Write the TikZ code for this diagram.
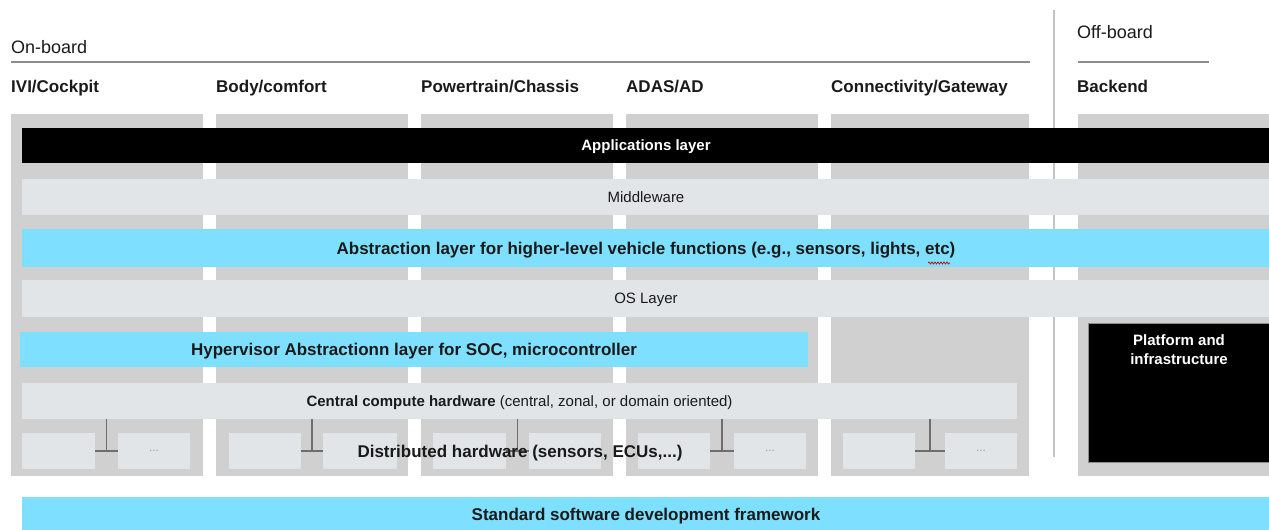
\documentclass[tikz,border=0pt]{standalone}
\usepackage{fontspec}
\setmainfont{Liberation Sans}
\usetikzlibrary{decorations.pathmorphing}
\definecolor{colgray}{HTML}{D0D0D0}
\definecolor{laylight}{HTML}{E1E5E8}
\definecolor{laycyan}{HTML}{7EDFFF}
\definecolor{linegray}{HTML}{8C8C8C}
\definecolor{vgray}{HTML}{C4C4C4}
\definecolor{conngray}{HTML}{6E6E6E}
\definecolor{dotgray}{HTML}{9A9A9A}
\definecolor{txtdark}{HTML}{1A1A1A}
\begin{document}
\begin{tikzpicture}[x=1pt,y=-1pt,
  box/.style={inner sep=0pt, outer sep=0pt, anchor=north west, draw=none, text depth=0pt},
  colbox/.style={box, fill=colgray, minimum height=362pt},
  lightbox/.style={box, fill=laylight, text=txtdark},
  cyanbox/.style={box, fill=laycyan, text=txtdark},
  blackbox/.style={box, fill=black, text=white},
  smallbox/.style={box, fill=laylight, minimum height=36pt, text=dotgray, font=\fontsize{12}{14}\selectfont},
  hdr/.style={anchor=west, inner sep=0pt, text depth=0pt, text=txtdark, font=\fontsize{17}{20}\selectfont\bfseries},
  title/.style={anchor=west, inner sep=0pt, text depth=0pt, text=txtdark, font=\fontsize{18}{21}\selectfont},
  bigb/.style={font=\fontsize{17}{20}\selectfont\bfseries},
  midb/.style={font=\fontsize{15}{18}\selectfont\bfseries},
  midr/.style={font=\fontsize{15}{18}\selectfont},
  rule/.style={draw=linegray, line width=1.4pt},
  conn/.style={draw=conngray, line width=1.3pt}
]
\useasboundingbox (0,0) rectangle (1269,530);

% titles and rules
\node[title] (onboard) at (11,47) {On-board};
\node[title] (offboard) at (1077,32) {Off-board};
\coordinate (onL) at (11,62);
\coordinate (onR) at (1030,62);
\coordinate (offL) at (1078,62);
\coordinate (offR) at (1209,62);
\draw[rule] (onL) -- (onR);
\draw[rule] (offL) -- (offR);

% headers
\node[hdr] (h1) at (11,86) {IVI/Cockpit};
\node[hdr] (h2) at (216,86) {Body/comfort};
\node[hdr] (h3) at (421,86) {Powertrain/Chassis};
\node[hdr] (h4) at (626,86) {ADAS/AD};
\node[hdr] (h5) at (831,86) {Connectivity/Gateway};
\node[hdr] (h6) at (1077,86) {Backend};

% columns
\node[colbox, minimum width=192pt] (c1) at (11,114) {};
\node[colbox, minimum width=192pt] (c2) at (216,114) {};
\node[colbox, minimum width=192pt] (c3) at (421,114) {};
\node[colbox, minimum width=192pt] (c4) at (626,114) {};
\node[colbox, minimum width=198pt] (c5) at (831,114) {};
\node[colbox, minimum width=192pt] (c6) at (1078,114) {};

% divider
\coordinate (vT) at (1054,10);
\coordinate (vB) at (1054,457);
\draw[draw=vgray, line width=2pt] (vT) -- (vB);

% layers
\node[blackbox, minimum width=1248pt, minimum height=35pt, midb] (app) at (22,128) {Applications layer};
\node[lightbox, minimum width=1248pt, minimum height=36pt, midr] (mid) at (22,179) {Middleware};
\node[cyanbox, minimum width=1248pt, minimum height=38pt, bigb] (abs) at (22,229) {Abstraction layer for higher-level vehicle functions (e.g., sensors, lights, etc)};
\node[lightbox, minimum width=1248pt, minimum height=37pt, midr] (os) at (22,280) {OS Layer};
\node[cyanbox, minimum width=788pt, minimum height=35pt, bigb] (hyp) at (20,332) {Hypervisor Abstractionn layer for SOC, microcontroller};
\node[lightbox, minimum width=995pt, minimum height=36pt, midr] (cen) at (22,383) {\textbf{Central compute hardware} (central, zonal, or domain oriented)};
\node[cyanbox, minimum width=1248pt, minimum height=34pt, bigb] (std) at (22,497) {Standard software development framework};

% spell-check squiggle under "etc"
\coordinate (sqL) at (928,263);
\coordinate (sqR) at (950,263);
\draw[red!80!black, line width=0.7pt, decorate, decoration={snake, amplitude=1pt, segment length=3pt}] (sqL) -- (sqR);

% platform
\node[blackbox, draw=linegray, line width=0.8pt, minimum width=182pt, minimum height=139pt] (plat) at (1088,323) {};
\node[anchor=north, inner sep=0pt, text=white, align=center, font=\fontsize{15}{19}\selectfont\bfseries] (plattext) at ([yshift=-11pt]plat.north) {Platform and\\infrastructure};

% small boxes
\node[smallbox, minimum width=73pt] (a1) at (22,433) {};
\node[smallbox, minimum width=72pt] (b1) at (118,433) {...};
\node[smallbox, minimum width=72pt] (a2) at (229,433) {};
\node[smallbox, minimum width=74pt] (b2) at (323,433) {};
\node[smallbox, minimum width=73pt] (a3) at (433,433) {};
\node[smallbox, minimum width=72pt] (b3) at (529,433) {};
\node[smallbox, minimum width=72pt] (a4) at (638,433) {};
\node[smallbox, minimum width=72pt] (b4) at (734,433) {...};
\node[smallbox, minimum width=72pt] (a5) at (843,433) {};
\node[smallbox, minimum width=72pt] (b5) at (945,433) {...};

% T connectors
\foreach \i in {1,...,5}{
  \path (a\i.east) -- (b\i.west) coordinate[midway] (j\i);
  \draw[conn] (a\i.east) -- (b\i.west);
  \draw[conn] (cen.south -| j\i) -- (j\i);
}

\node[inner sep=0pt, text depth=0pt, text=txtdark, bigb] (dist) at (520,451) {Distributed hardware (sensors, ECUs,...)};
\end{tikzpicture}
\end{document}
